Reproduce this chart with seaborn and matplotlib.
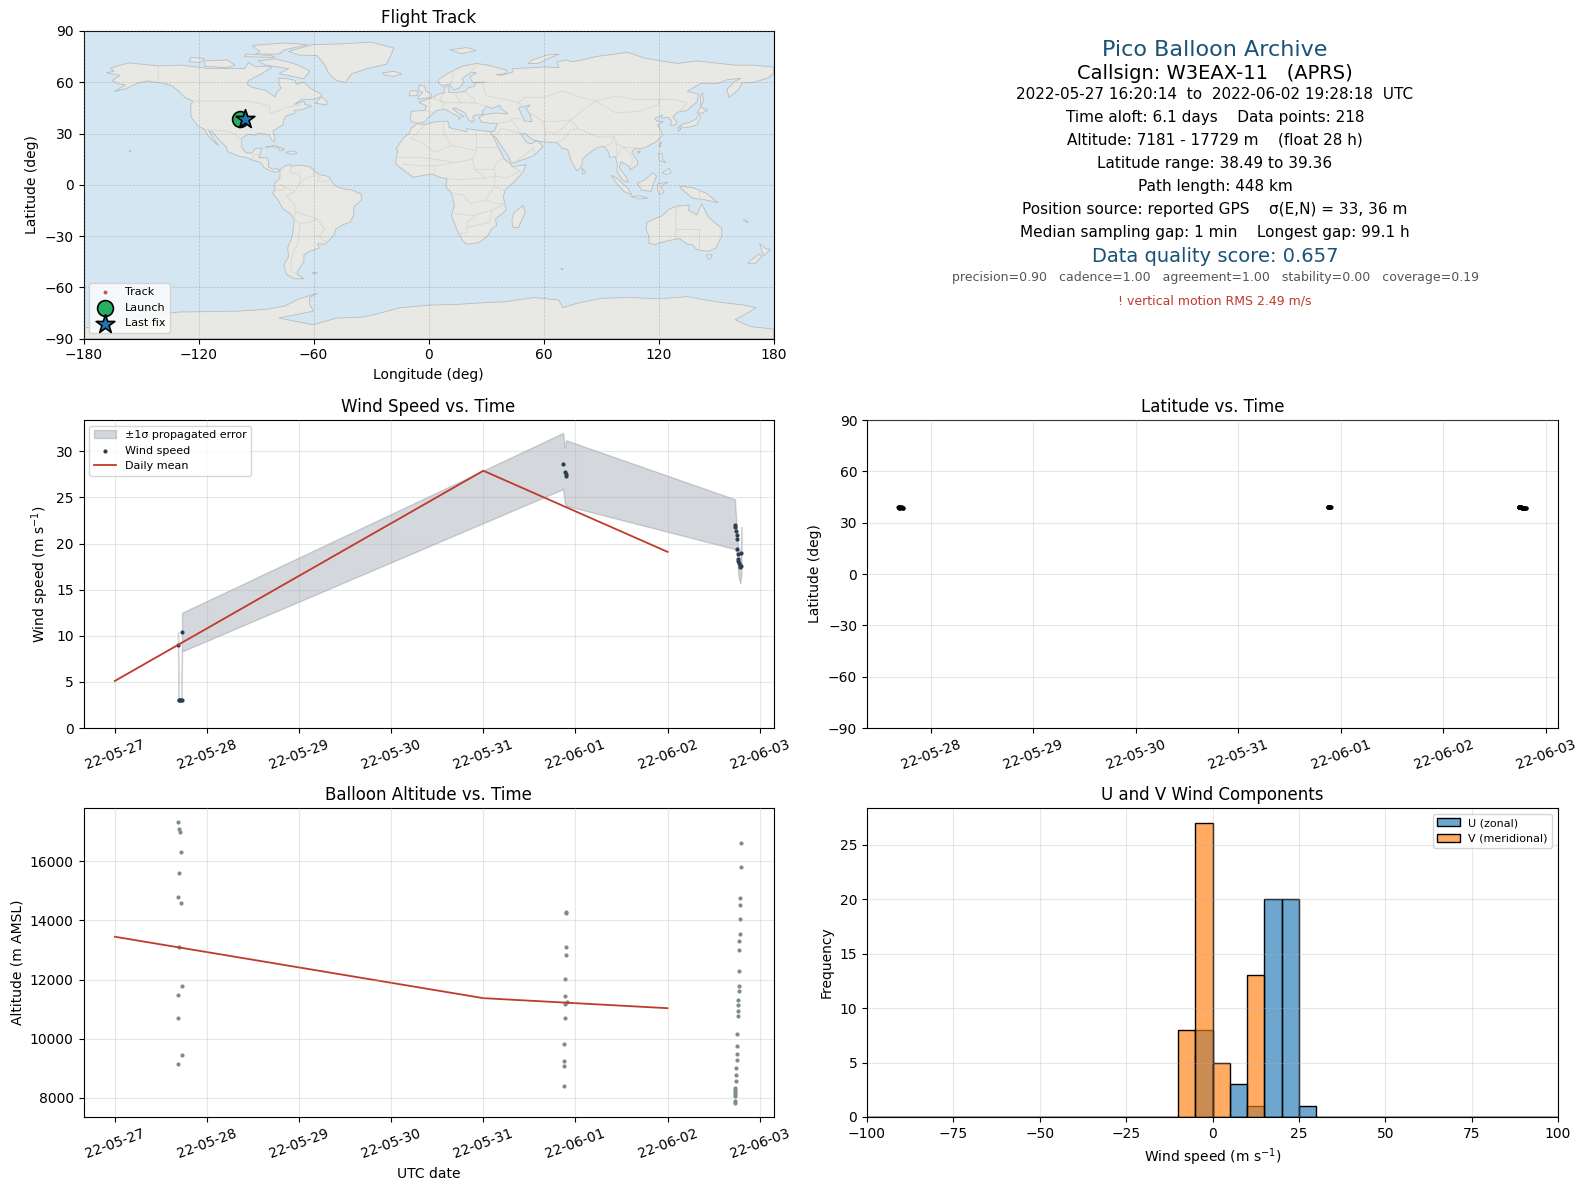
import matplotlib
matplotlib.use("Agg")
import matplotlib.dates as mdates
import matplotlib.pyplot as plt
import numpy as np
import pandas as pd
import seaborn as sns

T0 = pd.Timestamp("2022-05-27")

# --- wind speed (days since T0)
wind_days = [0.686, 0.692, 0.700, 0.708, 0.716, 0.724, 0.730,
             4.866, 4.885, 4.893, 4.900,
             6.732, 6.736, 6.742, 6.750, 6.754, 6.757, 6.762, 6.766, 6.770, 6.776, 6.782, 6.789, 6.795, 6.802]
wind_speed = [9.0, 3.0, 3.0, 3.0, 3.0, 3.0, 10.4,
              28.6, 27.8, 27.5, 27.3,
              22.0, 21.8, 21.4, 20.9, 20.5, 19.4, 18.9, 18.3, 18.1, 17.9, 17.7, 17.5, 17.6, 19.0]
wind_low = [7.6, 2.95, 2.95, 2.95, 2.95, 2.95, 8.3,
            25.9, 24.4, 24.3, 24.1,
            19.4, 19.3, 19.2, 19.1, 19.0, 18.0, 17.5, 16.8, 16.5, 16.2, 15.9, 15.7, 16.2, 16.6]
wind_high = [10.4, 3.05, 3.05, 3.05, 3.05, 3.05, 12.5,
             32.0, 30.4, 30.9, 31.2,
             24.8, 24.0, 23.0, 22.0, 21.0, 20.4, 20.0, 19.6, 19.4, 19.3, 19.2, 19.2, 19.2, 21.8]

mean_days = [0, 4, 6]
wind_mean = [5.1, 27.9, 19.1]
alt_mean = [13450, 11370, 11030]

# --- altitude and latitude
alt_days = [0.689, 0.700, 0.710, 0.721, 0.700, 0.689, 0.721, 0.700, 0.732, 0.689, 0.689, 0.732, 0.681,
            4.893, 4.893, 4.893, 4.893, 4.882, 4.882, 4.904, 4.882, 4.882, 4.871, 4.871, 4.871, 4.871,
            6.801, 6.801, 6.790, 6.790, 6.790, 6.790, 6.779, 6.779, 6.779, 6.779, 6.779, 6.768, 6.768, 6.768,
            6.768, 6.757, 6.757, 6.757, 6.757, 6.746, 6.746, 6.746, 6.735, 6.735, 6.735, 6.735, 6.735, 6.735, 6.735]
alt_m = [17329, 17091, 17000, 16307, 15625, 14807, 14603, 13103, 11774, 11467, 10683, 9457, 9150,
         14274, 14260, 13099, 12826, 12005, 11458, 11253, 11184, 10705, 9816, 9235, 9064, 8400,
         16613, 15796, 14773, 14535, 14057, 13546, 13308, 13001, 12285, 11774, 11604, 11297, 11127, 10922,
         10752, 10172, 9763, 9491, 9286, 9014, 8775, 8570, 8332, 8264, 8196, 8128, 8060, 7889, 7820]
lat_deg = [39.20, 39.15, 39.10, 39.00, 38.95, 38.90, 38.85, 38.80, 38.70, 38.65, 38.60, 38.55, 39.25,
           39.36, 39.30, 39.25, 39.20, 39.10, 39.05, 39.30, 39.00, 38.95, 38.95, 38.92, 38.90, 38.90,
           38.49, 38.50, 38.55, 38.55, 38.60, 38.62, 38.65, 38.68, 38.70, 38.72, 38.75, 38.78, 38.80, 38.82,
           38.85, 38.88, 38.90, 38.92, 38.95, 38.98, 39.00, 39.02, 39.05, 39.08, 39.10, 39.12, 39.15, 39.15, 39.18]

# --- flight track on the map
track_lon = [-98.6, -98.2, -97.8, -97.4, -97.0, -96.6, -96.0]
track_lat = [38.2, 38.4, 38.6, 38.9, 38.7, 38.5, 38.2]

# --- histogram of wind components
bin_edges = list(range(-100, 105, 5))
u_counts = {-5: 8, 5: 3, 10: 1, 15: 20, 20: 20, 25: 1}
v_counts = {-10: 8, -5: 27, 0: 5, 10: 13}

# --- land polygons, lon/lat, rough coastline
north_america = [(-168, 65.6), (-164, 66.5), (-166, 68.3), (-156.5, 71.3), (-141, 69.6), (-128, 70), (-115, 68), (-108, 68),
                 (-96, 68), (-94, 71.5), (-90, 69), (-85, 69.5), (-81.5, 69), (-87, 65), (-94, 61), (-94.5, 58.7), (-92, 57),
                 (-85, 55.3), (-82, 53), (-80, 51.3), (-79, 54.5), (-77, 56.5), (-78, 59), (-78, 62.4), (-73, 62), (-69.5, 61),
                 (-69, 58.8), (-65, 60), (-61.5, 56.5), (-56, 53), (-56, 51.5), (-60, 50), (-66, 50), (-70, 47), (-65, 49),
                 (-64.5, 47), (-61, 46), (-66, 44), (-70, 43.5), (-70, 41.7), (-74, 40.5), (-75.5, 38), (-76, 35), (-78, 33.8),
                 (-81, 31.5), (-80, 27), (-80.5, 25.2), (-82, 26.5), (-83, 29), (-85, 29.7), (-89, 30.2), (-90, 29), (-94, 29.5),
                 (-97.3, 27.5), (-97.7, 22.5), (-95.5, 18.8), (-92, 18.5), (-90.5, 21), (-87, 21.5), (-88, 17.5), (-88.5, 15.8),
                 (-84, 15.8), (-83.3, 12), (-83.7, 10.5), (-81, 9), (-79.5, 9.5), (-77.5, 8.6), (-78.5, 7.8), (-80, 7.3), (-83, 8.3),
                 (-85.7, 10), (-87.5, 13), (-92, 14.5), (-95, 16), (-99, 16.7), (-105, 19.5), (-105.5, 22), (-109, 26),
                 (-112.5, 30.5), (-114.7, 31.7), (-111, 25), (-109.5, 23), (-112, 25), (-115.5, 29.5), (-117, 32.5), (-120.5, 34.5),
                 (-124, 40), (-124, 46.5), (-123, 49), (-127, 51), (-130, 54.5), (-134, 58), (-140, 59.7), (-147, 60.8),
                 (-152, 59.3), (-158, 56.2), (-164, 54.5), (-158, 58.5), (-162, 59), (-165, 61), (-161, 64)]
baffin = [(-80, 73.7), (-72, 71.5), (-68, 70), (-62, 66.5), (-65, 62), (-72, 63.7), (-78, 65), (-73, 68), (-85, 70), (-89, 72.5)]
victoria = [(-117, 69.5), (-105, 68.5), (-101, 70), (-105, 73), (-117, 72.5)]
banks = [(-125, 72), (-119, 71.5), (-117, 74), (-124, 74.5)]
ellesmere = [(-90, 76.5), (-78, 76.5), (-75, 79), (-63, 82), (-75, 83), (-92, 81.5), (-88, 78)]
devon = [(-96, 75), (-80, 74.5), (-82, 75.7), (-95, 76.5)]
newfoundland = [(-59, 47.7), (-53, 46.7), (-53, 49), (-56, 51.5)]
greenland = [(-73, 78), (-68, 76), (-58, 75.5), (-54, 70), (-52, 65), (-48, 61), (-43.5, 59.9), (-40, 65), (-32, 68), (-22, 70.5),
             (-20, 75), (-18, 80), (-30, 83.5), (-45, 82.5), (-60, 82), (-67, 80)]
cuba = [(-85, 22), (-80, 23), (-75, 20.7), (-77.7, 19.9), (-78, 21.5), (-82, 22.3)]
hispaniola = [(-74.3, 19), (-70, 19.8), (-68.5, 18.5), (-71.5, 17.8), (-74, 18.3)]
hawaii = [(-156, 19), (-155, 19.8), (-156, 20.2)]
south_america = [(-77.5, 8.6), (-75, 11), (-72, 12), (-71.5, 10.8), (-68, 11.5), (-62, 10.7), (-60, 8.5), (-57, 6), (-52, 4.8), (-50, 1),
                 (-48, -1), (-44, -2.5), (-40, -3), (-35.2, -5.5), (-35, -9), (-39, -13), (-39, -18), (-41, -22), (-45, -23.5),
                 (-48.5, -26), (-49, -29), (-52, -32.5), (-54, -34.8), (-58, -34.5), (-57, -37), (-62, -39), (-65, -41), (-65, -45),
                 (-68, -50), (-68.5, -52.5), (-65, -55), (-70, -55), (-74, -52.5), (-75.5, -47), (-73, -42), (-73.5, -37), (-71, -30),
                 (-70, -20), (-72, -17), (-76, -14), (-79, -8), (-81.3, -5), (-80, -2.5), (-80.5, 0.5), (-77.5, 4), (-77.5, 7)]
falklands = [(-61, -51.5), (-58, -51.5), (-59, -52.3)]
africa = [(-6, 35.8), (-2, 35.2), (3, 36.8), (10, 37.3), (11, 34), (10.5, 33.5), (15, 32.3), (20, 31), (20, 32.8), (25, 32), (31, 31.3),
          (32.5, 31), (34, 27.5), (35.5, 24), (37.3, 20), (39.5, 15), (43, 12), (44, 10.5), (51, 11.8), (49, 7), (44, 1), (40, -3),
          (39, -7), (40.5, -15), (35, -20), (35.5, -24), (32.8, -26), (31, -30), (26, -34), (20, -34.8), (18, -33), (15, -27), (12, -18),
          (13.5, -12), (12, -5), (9, -1), (9.7, 3.5), (6, 4.3), (2, 6.3), (-4, 5.2), (-8, 4.4), (-13, 8.5), (-17, 12), (-17, 15), (-16, 20),
          (-17, 21), (-13, 27.5), (-10, 30), (-9, 33)]
madagascar = [(49.3, -12), (50.4, -16), (47, -25), (44, -25), (43.5, -21), (44.5, -16.5)]
eurasia = [(-9, 37), (-9.5, 39), (-9, 43), (-2, 43.5), (-1, 46), (-5, 48.4), (2, 51), (5, 53), (8.5, 54), (8, 57), (10.7, 57.7), (10.5, 54),
           (14, 54), (19, 54.5), (21, 57), (24, 57.5), (24, 59.5), (30, 60), (23, 60), (21.5, 63), (25, 65.5), (22, 65.8), (17.5, 62),
           (18.5, 60), (16, 56.5), (13, 55.5), (11, 59), (7, 58), (5, 60), (5.5, 62), (13, 67), (18, 69.5), (25, 71), (31, 70), (41, 67),
           (40, 65), (35, 64.5), (38, 64), (44, 66), (44, 68), (54, 68.5), (60, 69), (68, 68.5), (67, 72), (72, 73), (75, 72), (80, 73),
           (87, 75), (104, 77.5), (113, 74), (130, 71), (140, 72.5), (160, 70), (170, 70), (180, 68.9), (180, 65), (177, 62.5), (170, 60),
           (163.5, 59.5), (162, 56), (156.8, 51), (155.7, 56), (160, 60.5), (163, 62.3), (156, 61.5), (151, 59.3), (142, 59.2), (135, 54.7),
           (141, 53), (140, 48.5), (135, 43.5), (130, 42.5), (127.5, 39.8), (129.4, 37), (129, 35.2), (126.3, 34.5), (126.7, 37.5), (125, 39.5),
           (121.5, 39), (122, 40.8), (118, 39), (119, 37.3), (122.5, 37), (119.5, 35), (121.5, 31.5), (122, 29), (119, 25.3), (114, 22.3),
           (110, 21), (108, 21.5), (106, 19), (109, 14), (109, 11.5), (105, 8.7), (105, 10.5), (100.5, 13.5), (99.5, 10), (103.5, 4), (104, 1.3),
           (101, 3), (98.3, 8), (98.5, 12), (97.5, 16.5), (94.5, 16), (94, 19), (91.5, 22.5), (88, 21.7), (85, 19.5), (80.3, 15), (80, 11),
           (77.5, 8), (74.5, 14), (72.8, 20), (72, 21), (70, 21), (67, 24.8), (61, 25), (57, 25.5), (54, 26.5), (50.5, 30), (48, 30), (50, 26.5),
           (51.5, 24.5), (54, 24), (56.5, 26), (59.8, 22.5), (55, 17), (45, 13), (43, 12.7), (42, 16), (39, 21), (35, 28), (34.5, 28), (32.6, 30),
           (32.5, 31), (34.3, 31.3), (36, 36), (32, 36), (27.5, 36.8), (26.3, 39.5), (29, 41), (35, 42), (41.5, 41.5), (38, 44.5), (37, 46.5),
           (33, 44.6), (30.5, 46), (28, 43), (28.5, 41.3), (24, 40.7), (23, 39.5), (24, 38), (22.8, 36.5), (21, 38), (19.4, 41), (19, 42.2),
           (14, 45), (12.5, 44.5), (16, 41.5), (18.5, 40), (16.5, 39.5), (16, 38), (15.5, 40), (12, 42), (8.7, 44.3), (4, 43.4), (3, 42), (0, 39.5),
           (-2, 36.8), (-5.5, 36)]
britain = [(-5.5, 50), (1.5, 51.2), (1.7, 52.8), (-1.5, 55), (-2, 57.6), (-5, 58.6), (-5, 55), (-3, 54), (-5, 52)]
ireland = [(-10, 52), (-6, 52.2), (-5.7, 54.8), (-8.5, 55.2), (-10, 54)]
iceland = [(-24, 65.5), (-18, 66.4), (-14, 65), (-18, 63.4), (-22.5, 64)]
svalbard = [(11, 79), (20, 80.3), (25, 78.5), (17, 76.7)]
novaya_zemlya = [(52, 71), (57, 71), (68, 76.5), (62, 76), (54, 73)]
honshu = [(130.9, 34), (135, 33.5), (140, 35), (142, 39.5), (141, 41.3), (139.7, 38.5), (136, 36.5), (132, 35.3)]
hokkaido = [(140, 42), (143, 42), (145.5, 43.5), (142, 45.5)]
kyushu = [(130, 33.5), (131.8, 33), (130.5, 31.2)]
sakhalin = [(142, 46), (143.5, 49), (143, 54), (142, 52)]
taiwan = [(120.2, 23), (121.5, 25.2), (121, 22)]
hainan = [(108.8, 19.3), (110.5, 20), (110, 18.3)]
luzon = [(120, 18.5), (122, 18.3), (122, 15), (124, 13), (120.5, 14)]
mindanao = [(122, 7), (125.5, 9.7), (126.5, 7), (124, 6)]
sumatra = [(95.3, 5.6), (98, 4), (104, -2), (106, -5.8), (102, -4), (98, 1)]
java = [(105.5, -6.8), (110, -6.5), (114.5, -7.8), (110, -8.3)]
borneo = [(109, 1), (113, 3), (117, 7), (119, 5), (117.5, 1), (116, -4), (111, -3)]
sulawesi = [(119.5, 0.5), (125, 1.5), (121, -1), (123, -4.5), (120.5, -5.5), (119.5, -3)]
new_guinea = [(131, -0.8), (138, -1.7), (145, -5), (151, -10.5), (143, -8.5), (138, -8), (132.5, -3)]
sri_lanka = [(80, 9.7), (82, 7.5), (80.5, 6)]
australia = [(114, -22), (122, -18), (126, -14), (130.5, -12.2), (136, -12), (135.7, -15), (140, -17.5), (142.5, -11), (146, -19),
             (153, -25.5), (153, -30), (150, -37), (146, -39), (140, -38), (137.5, -35), (135, -34.8), (131, -31.5), (124, -33), (118, -35),
             (115, -34.3), (115, -30), (113.5, -26)]
tasmania = [(145, -41), (148, -41), (147, -43.5), (146, -43.5)]
nz_north = [(172.7, -34.5), (176, -37.5), (178.5, -37.8), (175, -41.5), (174, -39)]
nz_south = [(172.5, -40.6), (174, -41.8), (170.5, -46), (166.5, -46), (169, -43.5)]
new_caledonia = [(164, -20), (167, -22), (166, -22)]
kerguelen = [(69, -49), (70.5, -49.3), (69.5, -49.8)]
antarctica = [(-180, -84), (-160, -80), (-150, -77), (-130, -74.5), (-100, -74), (-85, -73), (-75, -71), (-68, -67), (-58, -63.5), (-62, -66),
              (-62, -70), (-60, -74), (-78, -78), (-60, -82), (-48, -78), (-35, -77.5), (-28, -76), (-15, -72), (0, -70.5), (15, -70), (30, -69),
              (40, -68.5), (55, -66), (68, -67.5), (70, -72), (77, -69.5), (90, -66.5), (105, -66), (120, -66.8), (135, -65.5), (150, -68.5),
              (165, -70.5), (171, -72), (165, -76), (160, -79), (168, -83), (180, -84.5), (180, -90), (-180, -90)]
land = [north_america, baffin, victoria, banks, ellesmere, devon, newfoundland, greenland, cuba, hispaniola, hawaii, south_america,
        falklands, africa, madagascar, eurasia, britain, ireland, iceland, svalbard, novaya_zemlya, honshu, hokkaido, kyushu, sakhalin,
        taiwan, hainan, luzon, mindanao, sumatra, java, borneo, sulawesi, new_guinea, sri_lanka, australia, tasmania, nz_north, nz_south,
        new_caledonia, kerguelen, antarctica]
caspian = [(47, 45), (53, 46.8), (51, 44.5), (53, 41), (54, 37), (50, 37.3), (49, 40)]

# some country borders
borders = [
    [(-123, 49), (-95, 49), (-89, 48), (-83, 46), (-82.5, 42), (-79, 43), (-75, 45), (-70, 46), (-67, 47)],
    [(-141, 69.6), (-141, 60), (-135, 59)],
    [(-117, 32.5), (-108, 31.5), (-106, 31.7), (-101, 29.7), (-97.3, 26)],
    [(-92, 14.5), (-91, 17.5), (-88, 17.5)],
    [(-72, 12), (-72, 7), (-67, 6), (-67, 1), (-70, -4), (-74, -7), (-70, -11), (-69, -16), (-58, -20), (-54, -26), (-57.5, -30), (-53.5, -33.5)],
    [(-60, 8.5), (-60, 5), (-64, 4), (-67, 1)],
    [(-57, 6), (-58, 2), (-52, 2.2), (-52, 4.8)],
    [(-78, 0.5), (-75, -1), (-70, -4)],
    [(-80, -3.5), (-76, -3), (-75, -1)],
    [(-70, -18), (-69, -16)],
    [(-70, -20), (-67, -23), (-68, -34), (-71, -40), (-72, -50), (-68.5, -52.5)],
    [(-67, -23), (-62, -22), (-58, -20)],
    [(-2, 43.5), (3, 42)],
    [(2, 51), (8, 48), (7, 44)],
    [(8.5, 54), (6, 50), (8, 48), (17, 48), (24, 48), (30, 46)],
    [(14, 54), (15, 51), (17, 48)],
    [(19, 54.5), (24, 50), (24, 48)],
    [(12, 59), (13, 67)],
    [(22, 65.8), (25, 70)],
    [(28, 60), (30, 52), (40, 50), (47, 48), (50, 51), (60, 51), (70, 55), (80, 51), (87, 49), (98, 52), (107, 50), (120, 50), (127, 50), (135, 48), (131, 43)],
    [(87, 49), (80, 43), (74, 38), (78, 33), (88, 28), (97, 28), (98, 24), (102, 22), (108, 21.5)],
    [(97, 28), (95, 24), (92, 22)],
    [(98, 24), (98, 16), (100, 20), (102, 22)],
    [(105, 10.5), (107, 14), (105, 18), (102, 22)],
    [(87, 49), (98, 42), (110, 43), (120, 47), (120, 50)],
    [(47, 48), (53, 42), (60, 37), (66, 37), (74, 38)],
    [(61, 25), (61, 31), (60, 37)],
    [(61, 31), (66, 30), (70, 33), (74, 38)],
    [(67, 24.8), (71, 27), (74, 32), (78, 33)],
    [(36, 36), (42, 37), (44, 39), (48, 38.5)],
    [(48, 30), (44, 37)],
    [(48, 30), (38, 33), (35, 29)],
    [(45, 13), (52, 19), (55, 22), (55, 17)],
    [(-9, 27), (-4, 25), (3, 19), (12, 23), (25, 20), (25, 31)],
    [(25, 22), (37, 22)],
    [(-2, 35), (-9, 27)],
    [(8, 37), (8, 30), (12, 23)],
    [(-16, 16), (-5, 16), (3, 15), (14, 13), (23, 15), (25, 20)],
    [(-13, 12), (-3, 11), (3, 11), (14, 13)],
    [(3, 6.5), (3, 11)],
    [(23, 15), (24, 9), (34, 9), (36, 14), (39, 15)],
    [(34, 9), (35, 5), (41, 4), (48, 8), (43, 11)],
    [(35, 5), (30, 4), (24, 9)],
    [(9.7, 3.5), (16, 3), (30, 4)],
    [(35, 5), (34, -1), (40, -3.5)],
    [(12, -5), (18, -6), (22, -11), (30, -9), (34, -1)],
    [(13.5, -17), (23, -18), (33, -15), (40.5, -11)],
    [(30, -9), (35, -11), (40.5, -11)],
    [(15, -29), (20, -28), (20, -22), (25, -18)],
    [(20, -25), (32, -22), (33, -15)],
    [(133, -12), (129, -14), (129, -31.5)],
    [(129, -26), (141, -26), (141, -38)],
    [(141, -2.7), (141, -9)],
]


def days_to_time(days):
    return T0 + pd.to_timedelta(days, unit="D")


wind_df = pd.DataFrame({"time": days_to_time(wind_days), "speed": wind_speed})
flight_df = pd.DataFrame({"time": days_to_time(alt_days), "alt": alt_m, "lat": lat_deg})
mean_df = pd.DataFrame({"time": days_to_time(mean_days), "wind": wind_mean, "alt": alt_mean})
track_df = pd.DataFrame({"lon": track_lon, "lat": track_lat})

W, H = 1587, 1189
fig = plt.figure(figsize=(W / 100, H / 100), dpi=100)


def add_axes(left, top, right, bottom):
    return fig.add_axes([left / W, 1 - bottom / H, (right - left) / W, (bottom - top) / H])


LEFT = (83.5, 773.5)
RIGHT = (867, 1558)
ax_map = add_axes(LEFT[0], 31, LEFT[1], 338.5)
ax_wind = add_axes(LEFT[0], 420, LEFT[1], 728)
ax_lat = add_axes(RIGHT[0], 420, RIGHT[1], 728)
ax_alt = add_axes(LEFT[0], 808, LEFT[1], 1117)
ax_hist = add_axes(RIGHT[0], 808, RIGHT[1], 1117)

RED = "#c0392b"
NAVY = "#2c3e50"
TITLE_BLUE = "#1a5276"

# map
ax_map.set_facecolor("#d4e6f1")
for poly in land:
    xs, ys = zip(*poly)
    ax_map.fill(xs, ys, facecolor="#e8e8e4", edgecolor="#b9bdbf", linewidth=0.6, zorder=1)
xs, ys = zip(*caspian)
ax_map.fill(xs, ys, facecolor="#d4e6f1", edgecolor="#b9bdbf", linewidth=0.6, zorder=1)
for line in borders:
    xs, ys = zip(*line)
    ax_map.plot(xs, ys, color="#d6d6d2", linewidth=0.6, zorder=1.5)
ax_map.grid(True, color="gray", linestyle="--", linewidth=0.5, alpha=0.4, zorder=2)
ax_map.set_axisbelow(False)
sns.scatterplot(data=track_df, x="lon", y="lat", ax=ax_map, color=RED, s=8, linewidth=0, alpha=0.85, label="Track", zorder=3, legend=False)
launch = ax_map.scatter([track_lon[0]], [track_lat[0]], s=130, marker="o", color="#27ae60", edgecolor="black", linewidth=1.2, label="Launch", zorder=4)
last = ax_map.scatter([track_lon[-1]], [track_lat[-1]], s=200, marker="*", color="#1f77b4", edgecolor="black", linewidth=1.2, label="Last fix", zorder=5)
ax_map.set_xlim(-180, 180)
ax_map.set_ylim(-90, 90)
ax_map.set_xticks(np.arange(-180, 181, 60))
ax_map.set_yticks(np.arange(-90, 91, 30))
ax_map.set_xlabel("Longitude (deg)")
ax_map.set_ylabel("Latitude (deg)")
ax_map.set_title("Flight Track")
ax_map.legend(loc="lower left", fontsize=8)

# wind speed
band = ax_wind.fill_between(days_to_time(wind_days), wind_low, wind_high, color=NAVY, alpha=0.2, label="±1σ propagated error")
sns.scatterplot(data=wind_df, x="time", y="speed", ax=ax_wind, color=NAVY, s=9, linewidth=0, legend=False, label="Wind speed", zorder=3)
sns.lineplot(data=mean_df, x="time", y="wind", ax=ax_wind, color=RED, linewidth=1.3, label="Daily mean", legend=False, zorder=4)
ax_wind.set_ylim(0, 33.4)
ax_wind.set_ylabel("Wind speed (m s$^{-1}$)")
ax_wind.set_xlabel("")
ax_wind.set_title("Wind Speed vs. Time")
handles, labels = ax_wind.get_legend_handles_labels()
order = [labels.index(k) for k in ("±1σ propagated error", "Wind speed", "Daily mean")]
ax_wind.legend([handles[i] for i in order], [labels[i] for i in order], loc="upper left", fontsize=8)

# latitude
sns.scatterplot(data=flight_df, x="time", y="lat", ax=ax_lat, color="black", s=9, linewidth=0, legend=False)
ax_lat.set_ylim(-90, 90)
ax_lat.set_yticks(np.arange(-90, 91, 30))
ax_lat.set_ylabel("Latitude (deg)")
ax_lat.set_xlabel("")
ax_lat.set_title("Latitude vs. Time")

# altitude
sns.scatterplot(data=flight_df, x="time", y="alt", ax=ax_alt, color="#7f8c8d", s=9, linewidth=0, legend=False)
sns.lineplot(data=mean_df, x="time", y="alt", ax=ax_alt, color=RED, linewidth=1.3, legend=False)
ax_alt.set_ylim(7345, 17810)
ax_alt.set_ylabel("Altitude (m AMSL)")
ax_alt.set_xlabel("UTC date")
ax_alt.set_title("Balloon Altitude vs. Time")

for ax, (d0, d1) in ((ax_wind, (-0.34, 7.15)), (ax_alt, (-0.34, 7.15)), (ax_lat, (0.377, 7.117))):
    ax.set_xlim(days_to_time(d0), days_to_time(d1))
    ax.xaxis.set_major_locator(mdates.DayLocator())
    ax.xaxis.set_major_formatter(mdates.DateFormatter("%y-%m-%d"))
    ax.tick_params(axis="x", rotation=20)
    ax.grid(True, alpha=0.3)
    ax.set_axisbelow(False)

# wind components
bin_left = np.array(bin_edges[:-1])
for counts, color, name in ((u_counts, "tab:blue", "U (zonal)"), (v_counts, "tab:orange", "V (meridional)")):
    weights = [counts.get(b, 0) for b in bin_left]
    sns.histplot(x=bin_left + 2.5, weights=weights, bins=bin_edges, ax=ax_hist, color=color, alpha=0.65,
                 edgecolor="black", linewidth=1.0, label=name)
ax_hist.set_xlim(-100, 100)
ax_hist.set_ylim(0, 28.35)
ax_hist.set_xlabel("Wind speed (m s$^{-1}$)")
ax_hist.set_ylabel("Frequency")
ax_hist.set_title("U and V Wind Components")
ax_hist.grid(True, alpha=0.3)
ax_hist.legend(loc="upper right", fontsize=8)

# summary panel
summary = [
    (50, "Pico Balloon Archive", 16, TITLE_BLUE),
    (73.3, "Callsign: W3EAX-11   (APRS)", 14, "black"),
    (94.3, "2022-05-27 16:20:14  to  2022-06-02 19:28:18  UTC", 11, "black"),
    (117.3, "Time aloft: 6.1 days    Data points: 218", 11, "black"),
    (140.3, "Altitude: 7181 - 17729 m    (float 28 h)", 11, "black"),
    (163.3, "Latitude range: 38.49 to 39.36", 11, "black"),
    (186.3, "Path length: 448 km", 11, "black"),
    (209.3, "Position source: reported GPS    σ(E,N) = 33, 36 m", 11, "black"),
    (232.3, "Median sampling gap: 1 min    Longest gap: 99.1 h", 11, "black"),
    (256.7, "Data quality score: 0.657", 14, TITLE_BLUE),
    (277.7, "precision=0.90   cadence=1.00   agreement=1.00   stability=0.00   coverage=0.19", 9, "#555555"),
    (300.7, "! vertical motion RMS 2.49 m/s", 9, RED),
]
for y, text, size, color in summary:
    fig.text(1215 / W, 1 - y / H, text, ha="center", va="center", fontsize=size, color=color)

fig.savefig("out.png", dpi=100)
